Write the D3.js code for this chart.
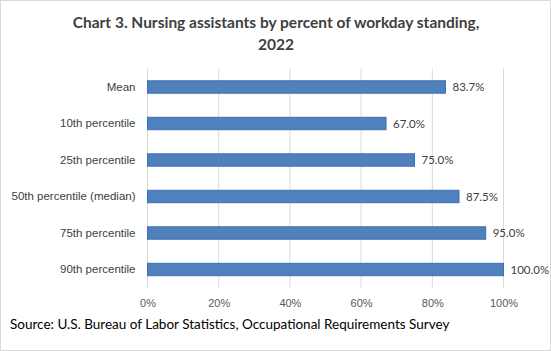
<!DOCTYPE html>
<html>
<head>
<meta charset="utf-8">
<script src="https://cdn.jsdelivr.net/npm/d3@7"></script>
<style>
  html, body { margin: 0; padding: 0; background: #fff; }
  svg { display: block; font-family: Lato, "Open Sans", sans-serif; }
</style>
</head>
<body>
<svg id="chart"></svg>
<script>
// data
const categories = ["Mean", "10th percentile", "25th percentile", "50th percentile (median)", "75th percentile", "90th percentile"];
const values = [83.7, 67.0, 75.0, 87.5, 95.0, 100.0];
const xTicks = [0, 20, 40, 60, 80, 100];

const W = 551, H = 351;
const plotLeft = 147.5, plotRight = 503.5, plotTop = 68.75, plotBottom = 287.75;

const svg = d3.select("#chart").attr("width", W).attr("height", H);

// outer frame
svg.append("rect")
  .attr("x", 0.5).attr("y", 0.5)
  .attr("width", W - 1).attr("height", H - 1)
  .attr("fill", "#fff").attr("stroke", "#d9d9d9");

const x = d3.scaleLinear().domain([0, 100]).range([plotLeft, plotRight]);
const y = d3.scaleBand().domain(categories).range([plotTop, plotBottom])
  .paddingInner(0.66).paddingOuter(0.33);

// gridlines
svg.append("g").selectAll("line")
  .data(xTicks)
  .join("line")
  .attr("x1", d => x(d)).attr("x2", d => x(d))
  .attr("y1", plotTop).attr("y2", plotBottom)
  .attr("stroke", "#d9d9d9").attr("stroke-width", 1);

// x axis labels
svg.append("g")
  .attr("transform", `translate(0,${plotBottom + 16})`)
  .call(d3.axisBottom(x).tickValues(xTicks).tickSize(0).tickFormat(d => d + "%"))
  .call(g => g.select(".domain").remove())
  .call(g => g.selectAll("text").attr("fill", "#595959").style("font-size", "11px").attr("dy", "0.32em").attr("y", 0));

// y axis labels
svg.append("g")
  .attr("transform", `translate(${plotLeft - 12},0)`)
  .call(d3.axisLeft(y).tickSize(0).tickPadding(0))
  .call(g => g.select(".domain").remove())
  .call(g => g.selectAll("text").attr("fill", "#404040").style("font-size", "11.5px"));

// bars
svg.append("g").selectAll("rect")
  .data(values)
  .join("rect")
  .attr("x", x(0))
  .attr("y", (d, i) => y(categories[i]))
  .attr("width", d => x(d) - x(0))
  .attr("height", y.bandwidth())
  .attr("fill", "#4f81bd")
  .attr("stroke", "#3d6fb0")
  .attr("stroke-width", 1);

// value labels
svg.append("g").selectAll("text")
  .data(values)
  .join("text")
  .attr("x", d => x(d) + 7)
  .attr("y", (d, i) => y(categories[i]) + y.bandwidth() / 2)
  .attr("dy", "0.35em")
  .attr("fill", "#404040")
  .style("font-size", "11.5px")
  .text(d => d.toFixed(1) + "%");

// title
const title = svg.append("text")
  .attr("x", 276).attr("y", 28)
  .attr("text-anchor", "middle")
  .attr("fill", "#404040")
  .style("font-size", "15.5px")
  .style("font-weight", "bold");
title.append("tspan").attr("x", 276).text("Chart 3. Nursing assistants by percent of workday standing,");
title.append("tspan").attr("x", 276).attr("dy", 22).text("2022");

// source
svg.append("text")
  .attr("x", 10).attr("y", 329)
  .attr("fill", "#000")
  .style("font-size", "13.5px")
  .text("Source: U.S. Bureau of Labor Statistics, Occupational Requirements Survey");
</script>
</body>
</html>
